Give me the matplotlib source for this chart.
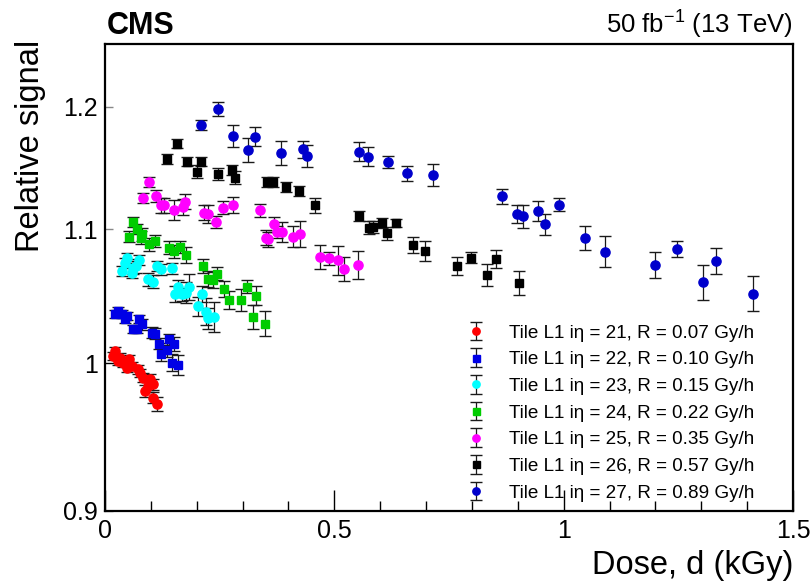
import matplotlib
matplotlib.use("Agg")
import matplotlib.pyplot as plt
from matplotlib.ticker import FixedLocator, FixedFormatter

plt.rcParams['font.family'] = ['Liberation Sans', 'DejaVu Sans']
plt.rcParams['mathtext.fontset'] = 'custom'
plt.rcParams['mathtext.rm'] = 'Liberation Sans'
plt.rcParams['mathtext.it'] = 'Liberation Sans:italic'
plt.rcParams['mathtext.bf'] = 'Liberation Sans:bold'

# ---- data ----
labels = [
    "Tile L1 iη = 21, R = 0.07 Gy/h",
    "Tile L1 iη = 22, R = 0.10 Gy/h",
    "Tile L1 iη = 23, R = 0.15 Gy/h",
    "Tile L1 iη = 24, R = 0.22 Gy/h",
    "Tile L1 iη = 25, R = 0.35 Gy/h",
    "Tile L1 iη = 26, R = 0.57 Gy/h",
    "Tile L1 iη = 27, R = 0.89 Gy/h",
]

d21 = [0.0218, 0.0181, 0.0327, 0.0290, 0.0399, 0.0530, 0.0473, 0.0582, 0.0726, 0.0763,
       0.0835, 0.0981, 0.1053, 0.0944, 0.0872, 0.1040, 0.1127]
s21 = [1.0086, 1.0050, 1.0038, 1.0014, 1.0002, 1.0026, 0.9967, 0.9979, 0.9955, 0.9931,
       0.9896, 0.9885, 0.9849, 0.9837, 0.9803, 0.9756, 0.9714]
e21 = [0.003, 0.003, 0.003, 0.003, 0.003, 0.003, 0.003, 0.003, 0.003, 0.003,
       0.003, 0.004, 0.004, 0.004, 0.004, 0.004, 0.005]

d22 = [0.0290, 0.0218, 0.0364, 0.0473, 0.0436, 0.0748, 0.0800, 0.0617, 0.0691, 0.1018,
       0.1090, 0.1184, 0.1402, 0.1504, 0.1345, 0.1221, 0.1454, 0.1585]
s22 = [1.0377, 1.0357, 1.0353, 1.0340, 1.0316, 1.0316, 1.0280, 1.0243, 1.0243, 1.0218,
       1.0211, 1.0138, 1.0170, 1.0138, 1.0091, 1.0062, 1.0002, 0.9986]
e22 = [0.003, 0.003, 0.003, 0.003, 0.003, 0.003, 0.004, 0.003, 0.003, 0.004,
       0.004, 0.004, 0.004, 0.005, 0.005, 0.005, 0.006, 0.007]

d23 = [0.0364, 0.0473, 0.0436, 0.0617, 0.0582, 0.0748, 0.0676, 0.1127, 0.1214, 0.1467,
       0.0944, 0.1053, 0.1598, 0.1838, 0.1526, 0.1672, 0.1766, 0.2108, 0.2021, 0.2202,
       0.2252, 0.2376]
s23 = [1.0677, 1.0777, 1.0738, 1.0702, 1.0664, 1.0759, 1.0715, 1.0715, 1.0690, 1.0698,
       1.0614, 1.0596, 1.0556, 1.0556, 1.0501, 1.0501, 1.0514, 1.0506, 1.0414, 1.0372,
       1.0323, 1.0333]
e23 = [0.004, 0.004, 0.004, 0.005, 0.004, 0.004, 0.005, 0.004, 0.004, 0.004,
       0.005, 0.005, 0.005, 0.010, 0.006, 0.005, 0.008, 0.006, 0.007, 0.010,
       0.008, 0.011]

d24 = [0.0617, 0.0530, 0.0704, 0.0800, 0.0778, 0.0966, 0.1090, 0.1402, 0.1504, 0.1635,
       0.1766, 0.2143, 0.2435, 0.2252, 0.2361, 0.2594, 0.2703, 0.2965, 0.3089, 0.3292,
       0.3220, 0.3488]
s24 = [1.1059, 1.0942, 1.0999, 1.0960, 1.0933, 1.0882, 1.0908, 1.0856, 1.0830, 1.0861,
       1.0800, 1.0715, 1.0657, 1.0614, 1.0607, 1.0539, 1.0459, 1.0459, 1.0558, 1.0491,
       1.0333, 1.0284]
e24 = [0.004, 0.004, 0.004, 0.005, 0.005, 0.005, 0.005, 0.005, 0.005, 0.005,
       0.006, 0.005, 0.005, 0.006, 0.006, 0.006, 0.007, 0.008, 0.005, 0.007,
       0.009, 0.009]

d25 = [0.0966, 0.0822, 0.1105, 0.1214, 0.1286, 0.1504, 0.1694, 0.1738, 0.2158, 0.2252,
       0.2413, 0.2579, 0.2797, 0.3386, 0.3684, 0.3503, 0.3560, 0.3743, 0.3865, 0.4092,
       0.4251, 0.4687, 0.4877, 0.5086, 0.5204, 0.5516]
s25 = [1.1376, 1.1249, 1.1263, 1.1189, 1.1189, 1.1151, 1.1175, 1.1215, 1.1130, 1.1122,
       1.1056, 1.1170, 1.1191, 1.1149, 1.1038, 1.0933, 1.0921, 1.0978, 1.0978, 1.0941,
       1.0962, 1.0784, 1.0774, 1.0759, 1.0695, 1.0723]
e25 = [0.004, 0.004, 0.005, 0.006, 0.006, 0.008, 0.006, 0.006, 0.006, 0.007,
       0.005, 0.005, 0.006, 0.005, 0.006, 0.006, 0.006, 0.005, 0.008, 0.008,
       0.010, 0.009, 0.005, 0.011, 0.009, 0.011]

d26 = [0.1576, 0.1345, 0.1794, 0.2099, 0.1999, 0.2464, 0.2769, 0.2834, 0.3538, 0.3656,
       0.3957, 0.4229, 0.4578, 0.5537, 0.5762, 0.5836, 0.6045, 0.6141, 0.6337, 0.6708,
       0.6970, 0.7667, 0.7979, 0.8334, 0.8524, 0.9032]
s26 = [1.1691, 1.1566, 1.1542, 1.1542, 1.1460, 1.1443, 1.1471, 1.1411, 1.1376, 1.1376,
       1.1338, 1.1303, 1.1189, 1.1104, 1.1012, 1.1017, 1.1046, 1.0968, 1.1046, 1.0877,
       1.0830, 1.0713, 1.0779, 1.0647, 1.0771, 1.0589]
e26 = [0.004, 0.004, 0.004, 0.004, 0.005, 0.005, 0.004, 0.005, 0.004, 0.004,
       0.004, 0.004, 0.006, 0.004, 0.005, 0.005, 0.004, 0.005, 0.003, 0.006,
       0.008, 0.007, 0.004, 0.008, 0.007, 0.009]

d27 = [0.2093, 0.2464, 0.2797, 0.3118, 0.3277, 0.3837, 0.4323, 0.4410, 0.5531, 0.5727,
       0.6170, 0.6591, 0.7144, 0.8655, 0.8993, 0.9119, 0.9446, 0.9597, 0.9902, 1.0471,
       1.0901, 1.1991, 1.2477, 1.3030, 1.3320, 1.4121]
s27 = [1.1845, 1.1981, 1.1755, 1.1636, 1.1749, 1.1613, 1.1644, 1.1588, 1.1624, 1.1583,
       1.1542, 1.1447, 1.1433, 1.1261, 1.1118, 1.1100, 1.1146, 1.1038, 1.1193, 1.0931,
       1.0825, 1.0721, 1.0844, 1.0592, 1.0756, 1.0506]
e27 = [0.004, 0.006, 0.009, 0.010, 0.008, 0.010, 0.007, 0.009, 0.008, 0.008,
       0.005, 0.006, 0.009, 0.006, 0.007, 0.009, 0.008, 0.008, 0.005, 0.009,
       0.012, 0.010, 0.006, 0.013, 0.010, 0.013]

doses = [d21, d22, d23, d24, d25, d26, d27]
signals = [s21, s22, s23, s24, s25, s26, s27]
errors = [e21, e22, e23, e24, e25, e26, e27]
colors = ["#ff0000", "#0000e6", "#00ffff", "#00cc00", "#ff00ff", "#000000", "#0000cc"]
markers = ["o", "s", "o", "s", "o", "s", "o"]

# ---- figure ----
fig = plt.figure(figsize=(8.1, 5.85), dpi=100)
W, H = 810, 585
L, R, T, B = 105, 793, 44, 511
ax = fig.add_axes([L / W, 1 - B / H, (R - L) / W, (B - T) / H])

handles = []
for d, s, e, c, m, lab in zip(doses, signals, errors, colors, markers, labels):
    ms = 6.6 if m == "o" else 6.3
    h = ax.errorbar(d, s, yerr=e, fmt=m, color=c, ms=ms, markeredgecolor=c,
                    ecolor="#1a1a1a", elinewidth=0.9, capsize=4.2, capthick=1.0,
                    label=lab)
    handles.append(h)

ax.set_xlim(0, 1.5)
ax.set_yscale("log")
ax.set_ylim(0.9, 1.255)

ax.xaxis.set_major_locator(FixedLocator([0, 0.5, 1.0, 1.5]))
ax.xaxis.set_major_formatter(FixedFormatter(["0", "0.5", "1", "1.5"]))
ax.xaxis.set_minor_locator(FixedLocator([0.1, 0.2, 0.3, 0.4, 0.6, 0.7, 0.8, 0.9,
                                         1.1, 1.2, 1.3, 1.4]))
ax.yaxis.set_major_locator(FixedLocator([1.0]))
ax.yaxis.set_major_formatter(FixedFormatter(["1"]))
ax.yaxis.set_minor_locator(FixedLocator([0.9, 1.1, 1.2]))
ax.yaxis.set_minor_formatter(FixedFormatter(["0.9", "1.1", "1.2"]))

ax.tick_params(axis="x", which="major", direction="in", length=15, width=1.0,
               labelsize=18, pad=6)
ax.tick_params(axis="x", which="minor", direction="in", length=7.5, width=1.0)
ax.tick_params(axis="y", which="major", direction="in", length=15, width=1.0,
               labelsize=18, pad=5)
ax.tick_params(axis="y", which="minor", direction="in", length=6, width=1.0,
               labelsize=18, pad=5, color="#888888")
for sp in ax.spines.values():
    sp.set_linewidth(1.6)

leg = ax.legend(handles=handles, loc="lower left",
                bbox_to_anchor=((458 - L) / (R - L), 0.0),
                frameon=False, fontsize=13.6, handlelength=0.9,
                handletextpad=1.3, labelspacing=0.5, borderpad=0.0,
                markerscale=0.8)

fig.text(107 / W, 1 - 34 / H, "CMS", fontsize=22, fontweight="bold",
         ha="left", va="baseline")
fig.text(793 / W, 1 - 34 / H, "50 fb$^{-1}$ (13 TeV)", fontsize=18.5,
         ha="right", va="baseline")
fig.text(793 / W, 1 - 574 / H, "Dose, d (kGy)", fontsize=23.5,
         ha="right", va="baseline")
fig.text(46 / W, 1 - 252 / H, "Relative signal", fontsize=23.5,
         rotation=90, ha="right", va="bottom")

fig.savefig("out.png", dpi=100)
